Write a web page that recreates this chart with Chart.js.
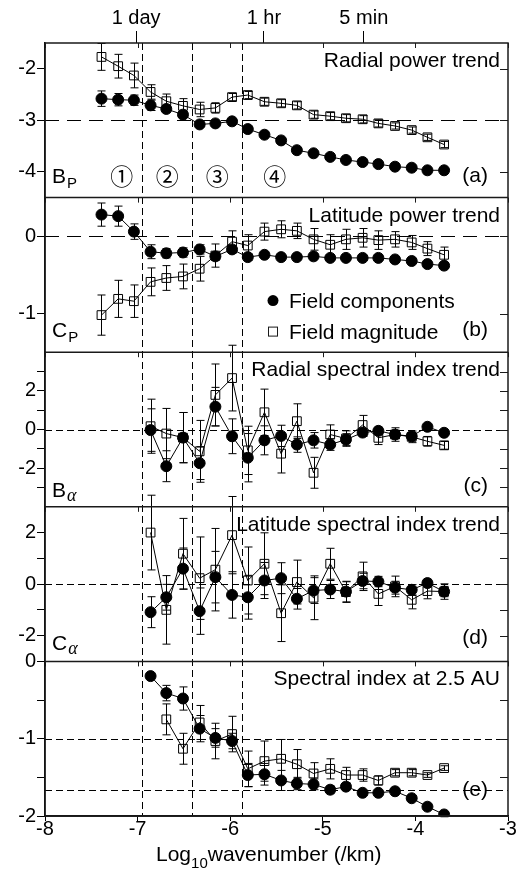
<!DOCTYPE html>
<html>
<head>
<meta charset="utf-8">
<script src="https://cdn.jsdelivr.net/npm/chart.js@4/dist/chart.umd.min.js"></script>
<style>
  html, body { margin: 0; padding: 0; background: #fff; }
</style>
</head>
<body>
<canvas id="trends" width="517" height="870"></canvas>
<script>
const FONT = '"Liberation Sans", Arial, sans-serif'

// log10 wavenumber of each spectral bin (/km)
const logK = [-7.39, -7.21, -7.04, -6.86, -6.69, -6.51, -6.33, -6.16, -5.98, -5.81, -5.63,
              -5.45, -5.28, -5.10, -4.92, -4.75, -4.57, -4.40, -4.22, -4.04, -3.87, -3.69]

// (a) radial power trend
const aCompVal = [-2.58, -2.60, -2.61, -2.71, -2.78, -2.89, -3.08, -3.06, -3.02, -3.17, -3.28,
                  -3.39, -3.58, -3.64, -3.71, -3.77, -3.81, -3.85, -3.90, -3.92, -3.97, -3.97]
const aCompErr = [0.15, 0.12, 0.10, 0.10, 0.07, 0.05, 0.04, 0.04, 0.04, 0.03, 0.03,
                  0.03, 0.03, 0.03, 0.03, 0.03, 0.03, 0.03, 0.03, 0.03, 0.03, 0.03]
const aMagVal = [-1.77, -1.95, -2.13, -2.45, -2.63, -2.72, -2.79, -2.76, -2.55, -2.51, -2.64,
                 -2.67, -2.71, -2.89, -2.92, -2.96, -2.98, -3.06, -3.11, -3.19, -3.33, -3.47]
const aMagErr = [0.26, 0.23, 0.24, 0.14, 0.14, 0.14, 0.14, 0.10, 0.07, 0.07, 0.07,
                 0.07, 0.07, 0.07, 0.07, 0.07, 0.07, 0.07, 0.06, 0.06, 0.06, 0.06]

// (b) latitude power trend
const bCompVal = [0.28, 0.26, 0.06, -0.20, -0.22, -0.21, -0.17, -0.26, -0.17, -0.27, -0.24,
                  -0.27, -0.27, -0.26, -0.28, -0.28, -0.28, -0.28, -0.30, -0.32, -0.36, -0.38]
const bCompErr = [0.15, 0.13, 0.10, 0.09, 0.06, 0.06, 0.06, 0.05, 0.05, 0.04, 0.03,
                  0.03, 0.03, 0.03, 0.03, 0.03, 0.03, 0.03, 0.03, 0.03, 0.03, 0.03]
const bMagVal = [-1.02, -0.81, -0.84, -0.59, -0.54, -0.52, -0.42, -0.25, -0.07, -0.12, 0.06,
                 0.09, 0.07, -0.04, -0.11, -0.04, -0.02, -0.05, -0.04, -0.08, -0.16, -0.24]
const bMagErr = [0.26, 0.24, 0.21, 0.18, 0.16, 0.16, 0.16, 0.15, 0.14, 0.14, 0.11,
                 0.11, 0.10, 0.14, 0.13, 0.13, 0.12, 0.12, 0.10, 0.09, 0.09, 0.10]

// (c) radial spectral index trend
const cCompVal = [null, null, null, -0.03, -1.90, -0.42, -1.74, 1.18, -0.35, -1.46, -0.56,
                  -0.33, -0.78, -0.56, -0.78, -0.52, -0.16, -0.07, -0.26, -0.35, 0.14, -0.17]
const cCompErr = [null, null, null, 1.1, 0.8, 1.3, 0.85, 1.0, 0.9, 1.25, 0.75,
                  0.55, 0.4, 0.4, 0.3, 0.3, 0.2, 0.2, 0.2, 0.15, 0.1, 0.1]
const cMagVal = [null, null, null, 0.17, -0.21, -0.42, -1.13, 1.79, 2.66, -1.08, 0.89,
                 -1.25, 0.43, -2.24, -0.26, -0.47, 0.23, -0.43, -0.26, -0.38, -0.61, -0.82]
const cMagErr = [null, null, null, 1.4, 1.3, 1.3, 1.6, 1.6, 1.7, 1.25, 1.2,
                 1.0, 0.9, 0.8, 0.5, 0.4, 0.5, 0.35, 0.35, 0.3, 0.25, 0.2]

// (d) latitude spectral index trend
const dCompVal = [null, null, null, -1.09, -0.51, 0.60, -1.05, 0.27, -0.42, -0.51, 0.14,
                  0.23, -0.57, -0.25, -0.21, -0.29, 0.12, 0.10, -0.14, -0.22, 0.04, -0.29]
const dCompErr = [null, null, null, 0.6, 0.5, 0.8, 0.9, 1.0, 0.9, 0.85, 0.7,
                  0.6, 0.4, 0.5, 0.35, 0.4, 0.3, 0.2, 0.25, 0.2, 0.15, 0.2]
const dMagVal = [null, null, null, 2.00, -1.00, 1.18, 0.23, 0.56, 1.90, 0.14, 0.79,
                 -1.13, 0.08, -0.53, 0.79, -0.31, 0.30, -0.38, -0.09, -0.61, -0.27, -0.29]
const dMagErr = [null, null, null, 1.45, 1.33, 1.37, 1.6, 1.6, 1.5, 1.3, 1.2,
                 1.1, 0.85, 0.85, 0.6, 0.4, 0.55, 0.45, 0.4, 0.35, 0.3, 0.3]

// (e) spectral index at 2.5 AU
const eCompVal = [null, null, null, -0.19, -0.41, -0.48, -0.87, -0.99, -1.03, -1.47, -1.46,
                  -1.54, -1.58, -1.59, -1.66, -1.62, -1.70, -1.70, -1.68, -1.77, -1.88, -1.98]
const eCompErr = [null, null, null, 0, 0.1, 0.15, 0.17, 0.12, 0.1, 0.15, 0.14,
                  0.13, 0.08, 0.07, 0.05, 0.04, 0.03, 0.03, 0.03, 0.03, 0.03, 0.03]
const eMagVal = [null, null, null, null, -0.75, -1.13, -0.79, -1.03, -0.94, -1.39, -1.29,
                 -1.26, -1.33, -1.45, -1.39, -1.47, -1.47, -1.54, -1.44, -1.44, -1.47, -1.38]
const eMagErr = [null, null, null, null, 0.2, 0.2, 0.22, 0.23, 0.23, 0.23, 0.26,
                 0.25, 0.19, 0.14, 0.13, 0.1, 0.08, 0.06, 0.04, 0.04, 0.03, 0.03]

// axes
const xTicks = [-8, -7, -6, -5, -4, -3]
const periodLabels = ['1 day', '1 hr', '5 min']
const periodPos = [-7.016, -5.636, -4.557]
const regionEdges = [-6.955, -6.414, -5.873]
const regionNames = ['\u2460', '\u2461', '\u2462', '\u2463']
const regionNamePos = [-7.17, -6.68, -6.14, -5.52]

const panelIds = ['yA', 'yB', 'yC', 'yD', 'yE']
const panelMin = [-4.5, -1.5, -4, -3, -2]
const panelMax = [-1.5, 0.5, 4, 3, 0]
const panelTicks = [[-4, -3, -2], [-1, 0], [-3, -2, -1, 0, 1, 2, 3], [-2, -1, 0, 1, 2], [-2, -1.5, -1, -0.5, 0]]
const panelTickLabels = [[-4, -3, -2], [-1, 0], [-2, 0, 2], [-2, 0, 2], [-2, -1, 0]]
const panelRefs = [[-3], [0], [0], [0], [-1, -5 / 3]]
const panelTitles = ['Radial power trend', 'Latitude power trend', 'Radial spectral index trend',
                     'Latitude spectral index trend', 'Spectral index at 2.5 AU']
const panelTags = ['(a)', '(b)', '(c)', '(d)', '(e)']
const panelSym = ['B', 'C', 'B', 'C', '']
const panelSub = ['P', 'P', '\u03b1', '\u03b1', '']

function series(label, vals, errs, axis, filled) {
    return {
        label: label,
        yAxisID: axis,
        xAxisID: 'x',
        data: logK.map((k, i) => ({ x: k, y: vals[i] })),
        errors: errs,
        borderColor: '#000',
        borderWidth: 1,
        tension: 0,
        fill: false,
        pointStyle: filled ? 'circle' : 'rect',
        pointRadius: filled ? 5.5 : 6.2,
        pointBackgroundColor: filled ? '#000' : 'rgba(0,0,0,0)',
        pointBorderColor: '#000',
        pointBorderWidth: 1
    }
}

const datasets = [
    series('Field components', aCompVal, aCompErr, 'yA', true),
    series('Field magnitude', aMagVal, aMagErr, 'yA', false),
    series('Field components', bCompVal, bCompErr, 'yB', true),
    series('Field magnitude', bMagVal, bMagErr, 'yB', false),
    series('Field components', cCompVal, cCompErr, 'yC', true),
    series('Field magnitude', cMagVal, cMagErr, 'yC', false),
    series('Field components', dCompVal, dCompErr, 'yD', true),
    series('Field magnitude', dMagVal, dMagErr, 'yD', false),
    series('Field components', eCompVal, eCompErr, 'yE', true),
    series('Field magnitude', eMagVal, eMagErr, 'yE', false)
]

const scales = {
    x: {
        type: 'linear', position: 'bottom', min: -8, max: -3,
        afterBuildTicks: s => { s.ticks = xTicks.map(v => ({ value: v })) },
        afterFit: s => { s.height = 54 },
        ticks: { font: { family: FONT, size: 20 }, color: '#000', padding: -4, maxRotation: 0, autoSkip: false },
        grid: { drawOnChartArea: false, drawTicks: true, tickLength: 5, color: '#000' },
        border: { display: true, color: '#000', width: 1.5 }
    },
    xTop: {
        type: 'linear', position: 'top', min: -8, max: -3,
        afterBuildTicks: s => { s.ticks = periodPos.map(v => ({ value: v })) },
        afterFit: s => { s.height = 43 },
        ticks: { font: { family: FONT, size: 20 }, color: '#000', padding: 1, maxRotation: 0, autoSkip: false,
                 callback: (v, i) => periodLabels[i] },
        grid: { drawOnChartArea: false, drawTicks: true, tickLength: 12, color: '#000' },
        border: { display: false }
    }
}

panelIds.forEach((id, p) => {
    scales[id] = {
        type: 'linear', position: 'left', stack: 'panels', stackWeight: 1, weight: 5 - p,
        min: panelMin[p], max: panelMax[p],
        afterBuildTicks: s => { s.ticks = panelTicks[p].map(v => ({ value: v })) },
        afterFit: s => { s.width = 45 },
        ticks: {
            font: { family: FONT, size: 20 }, color: '#000', padding: 1, autoSkip: false,
            callback: v => panelTickLabels[p].includes(v) ? String(v) : ''
        },
        grid: { drawOnChartArea: false, drawTicks: true, tickLength: 8, color: '#000' },
        border: { display: true, color: '#000', width: 1.5 }
    }
})

function line(ctx, x1, y1, x2, y2) {
    ctx.beginPath()
    ctx.moveTo(x1, y1)
    ctx.lineTo(x2, y2)
    ctx.stroke()
}

const panelDecor = {
    id: 'panelDecor',
    beforeDatasetsDraw(chart) {
        const ctx = chart.ctx, area = chart.chartArea, xs = chart.scales.x
        ctx.save()
        ctx.strokeStyle = '#000'
        ctx.lineWidth = 1
        // region edges
        ctx.setLineDash([7, 4])
        regionEdges.forEach(v => {
            const px = Math.round(xs.getPixelForValue(v)) + 0.5
            line(ctx, px, area.top, px, area.bottom)
        })
        // reference levels
        panelIds.forEach((id, p) => {
            const ys = chart.scales[id]
            ctx.setLineDash(p < 2 ? [14, 8] : [7, 4])
            panelRefs[p].forEach(v => {
                const py = Math.round(ys.getPixelForValue(v)) + 0.5
                line(ctx, area.left, py, area.right, py)
            })
        })
        // error bars
        ctx.setLineDash([])
        chart.data.datasets.forEach(ds => {
            const ys = chart.scales[ds.yAxisID]
            ds.data.forEach((pt, j) => {
                const e = ds.errors[j]
                if (pt.y == null || !e) return
                const px = Math.round(xs.getPixelForValue(pt.x)) + 0.5
                const y1 = ys.getPixelForValue(pt.y + e), y2 = ys.getPixelForValue(pt.y - e)
                line(ctx, px, y1, px, y2)
                line(ctx, px - 4, y1, px + 4, y1)
                line(ctx, px - 4, y2, px + 4, y2)
            })
        })
        ctx.restore()
    },
    afterDraw(chart) {
        const ctx = chart.ctx, area = chart.chartArea, xs = chart.scales.x
        ctx.save()
        ctx.strokeStyle = '#1a1a1a'
        ctx.lineWidth = 1.5
        ctx.strokeRect(area.left, area.top, area.right - area.left, area.bottom - area.top)
        panelIds.forEach((id, p) => {
            const ys = chart.scales[id]
            line(ctx, area.left, ys.bottom, area.right, ys.bottom)
            ctx.lineWidth = 1
            // inward ticks on the right edge
            ys.ticks.forEach(t => {
                const py = Math.round(ys.getPixelForValue(t.value)) + 0.5
                line(ctx, area.right, py, area.right - 8, py)
            })
            // x ticks under each panel's top edge
            xTicks.forEach(v => {
                const px = Math.round(xs.getPixelForValue(v)) + 0.5
                line(ctx, px, ys.top, px, ys.top + 5)
            })
            ctx.lineWidth = 1.5
        })

        ctx.fillStyle = '#000'
        ctx.textBaseline = 'alphabetic'
        panelIds.forEach((id, p) => {
            const ys = chart.scales[id]
            ctx.font = '21px ' + FONT
            ctx.textAlign = 'right'
            ctx.fillText(panelTitles[p], 500, ys.top + 24)
            ctx.fillText(panelTags[p], 488, ys.bottom - [16, 16, 15, 17, 20][p])
            if (panelSym[p]) {
                const by = ys.bottom - [15, 15, 10, 11][p]
                ctx.textAlign = 'left'
                ctx.fillText(panelSym[p], 52, by)
                const w = ctx.measureText(panelSym[p]).width
                if (p < 2) {
                    ctx.font = '15px ' + FONT
                    ctx.fillText(panelSub[p], 52 + w + 1, by + 5)
                } else {
                    ctx.font = 'italic 18px "Liberation Serif", serif'
                    ctx.fillText(panelSub[p], 52 + w + 1, by + 4)
                }
            }
        })

        // region numbers in panel (a)
        ctx.font = '23px "Noto Sans CJK JP", "DejaVu Sans", sans-serif'
        ctx.textAlign = 'center'
        regionNames.forEach((n, i) => {
            ctx.fillText(n, xs.getPixelForValue(regionNamePos[i]), chart.scales.yA.bottom - 13)
        })

        // legend in panel (b)
        const lb = chart.scales.yB.top
        ctx.beginPath()
        ctx.arc(273, lb + 103, 5.5, 0, Math.PI * 2)
        ctx.fill()
        ctx.lineWidth = 1
        ctx.strokeRect(268.5, lb + 129.5, 9, 9)
        ctx.font = '21px ' + FONT
        ctx.textAlign = 'left'
        ctx.fillText('Field components', 289, lb + 110)
        ctx.fillText('Field magnitude', 289, lb + 141)

        // x axis title with subscript
        let tx = 156
        const ty = 861
        ctx.fillText('Log', tx, ty)
        tx += ctx.measureText('Log').width
        ctx.font = '15px ' + FONT
        ctx.fillText('10', tx, ty + 7)
        tx += ctx.measureText('10').width
        ctx.font = '21px ' + FONT
        ctx.fillText('wavenumber (/km)', tx, ty)
        ctx.restore()
    }
}

new Chart(document.getElementById('trends'), {
    type: 'line',
    data: { datasets: datasets },
    options: {
        responsive: false,
        animation: false,
        devicePixelRatio: 1,
        layout: { padding: { left: 0, right: 9, top: 0, bottom: 0 } },
        plugins: { legend: { display: false }, tooltip: { enabled: false } },
        scales: scales
    },
    plugins: [panelDecor]
})
</script>
</body>
</html>
